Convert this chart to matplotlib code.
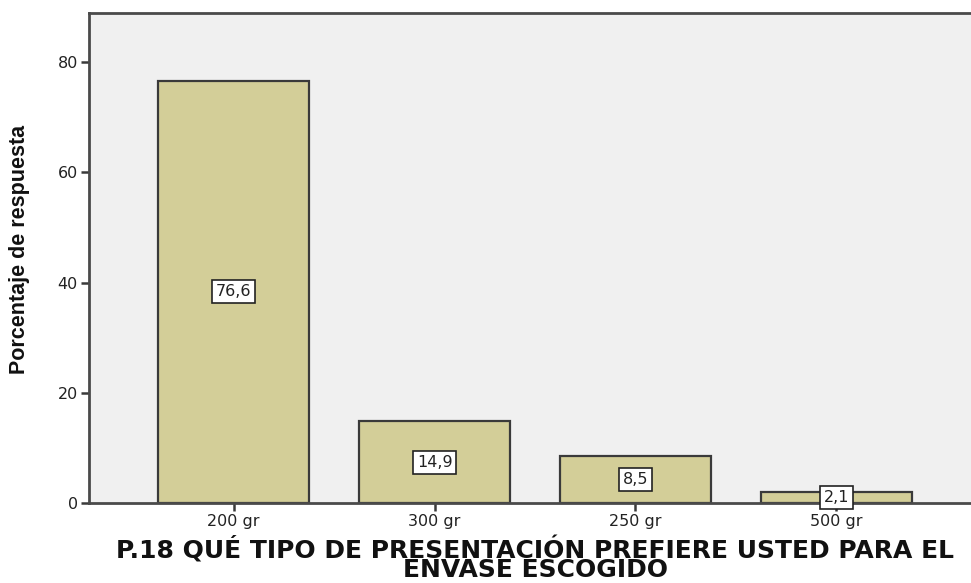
import matplotlib.pyplot as plt

categories = ["200 gr", "300 gr", "250 gr", "500 gr"]
percentages = [76.6, 14.9, 8.5, 2.1]
value_labels = ["76,6", "14,9", "8,5", "2,1"]
y_ticks = [0, 20, 40, 60, 80]

plt.rcParams['font.family'] = ['DejaVu Sans']

fig = plt.figure(figsize=(9.71, 5.83), dpi=100)
ax = fig.add_axes([0.0917, 0.137, 0.9083, 0.8407])
ax.set_facecolor("#F0F0F0")

positions = list(range(len(categories)))
ax.bar(positions, percentages, width=0.75, color="#D3CE98",
       edgecolor="#3A3A3A", linewidth=1.6, zorder=2)

for pos, val, lab in zip(positions, percentages, value_labels):
    ax.text(pos, val / 2, lab, ha="center", va="center", fontsize=11.5,
            color="#222222", zorder=3,
            bbox=dict(boxstyle="square,pad=0.25", facecolor="white",
                      edgecolor="#222222", linewidth=1.2))

ax.set_xlim(-0.72, 3.67)
ax.set_ylim(0, 88.9)
ax.set_xticks(positions)
ax.set_xticklabels(categories, fontsize=11.5, color="#222222")
ax.set_yticks(y_ticks)
ax.set_yticklabels([str(t) for t in y_ticks], fontsize=11.5, color="#222222")
ax.tick_params(axis="both", length=6, width=1.8, color="#3A3A3A", pad=2)

for side in ["left", "top", "bottom"]:
    ax.spines[side].set_color("#4A4A4A")
    ax.spines[side].set_linewidth(2)
ax.spines["right"].set_visible(False)

# y label sits close to the left edge of the figure
fig.text(20 / 971, 1 - 249 / 583, "Porcentaje de respuesta", rotation=90,
         ha="center", va="center", fontsize=15.5, fontweight="bold",
         family=["Liberation Sans", "DejaVu Sans"], color="#111111")

fig.text(535 / 971, 1 / 583,
         "P.18 QUÉ TIPO DE PRESENTACIÓN PREFIERE USTED PARA EL\nENVASE ESCOGIDO",
         ha="center", va="bottom", multialignment="center", fontsize=18,
         fontweight="bold", linespacing=0.72, color="#111111")

fig.savefig("out.png", dpi=100)
